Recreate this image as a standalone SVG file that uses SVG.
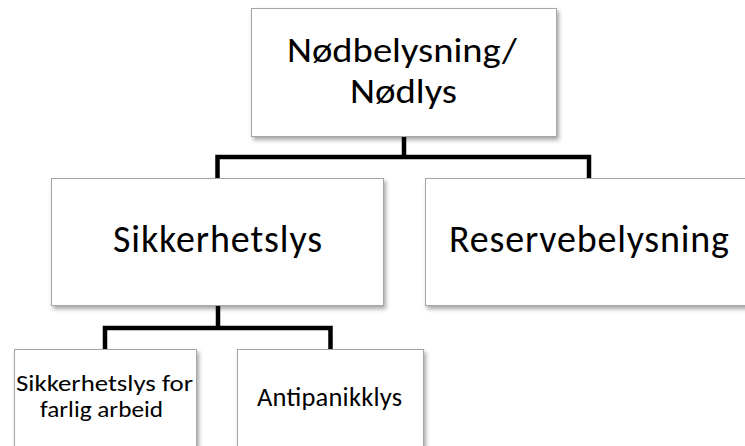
<svg xmlns="http://www.w3.org/2000/svg" width="745" height="446" viewBox="0 0 745 446">
<defs>
<filter id="sh" x="-10%" y="-10%" width="130%" height="130%">
<feDropShadow dx="2" dy="3" stdDeviation="2" flood-color="#000" flood-opacity="0.35"/>
</filter>
<style>
.box{fill:#fff;stroke:#a6a6a6;stroke-width:1;filter:url(#sh)}
.t{font-family:Carlito,Lato,"Liberation Sans",sans-serif;fill:#000;text-anchor:middle}
.c{fill:none;stroke:#000;stroke-width:4.5;stroke-linejoin:miter}
</style>
</defs>
<rect width="745" height="446" fill="#fff"/>
<g id="connectors">
<path class="c" d="M404,137 V157 M217.5,178 V157 H589 V178"/>
<path class="c" d="M218,306 V328 M105,349 V328 H330.5 V349"/>
</g>
<g id="n-root">
<rect class="box" x="251.5" y="8.5" width="305" height="128"/>
<text class="t" x="402" y="62" font-size="34" textLength="230" lengthAdjust="spacingAndGlyphs">Nødbelysning/</text>
<text class="t" x="403.5" y="103" font-size="34" textLength="107" lengthAdjust="spacingAndGlyphs">Nødlys</text>
</g>
<g id="n-sikkerhetslys">
<rect class="box" x="51.5" y="178.5" width="332" height="127"/>
<text class="t" x="217.5" y="252" font-size="38" textLength="209" lengthAdjust="spacing">Sikkerhetslys</text>
</g>
<g id="n-reserve">
<rect class="box" x="425.5" y="178.5" width="330" height="127"/>
<text class="t" x="589" y="252" font-size="38" textLength="280" lengthAdjust="spacing">Reservebelysning</text>
</g>
<g id="n-farlig">
<rect class="box" x="14.5" y="349.5" width="182" height="110"/>
<text class="t" x="104.5" y="391" font-size="21.5" textLength="177" lengthAdjust="spacingAndGlyphs">Sikkerhetslys for</text>
<text class="t" x="101.5" y="417" font-size="21.5" textLength="123" lengthAdjust="spacingAndGlyphs">farlig arbeid</text>
</g>
<g id="n-antipanikk">
<rect class="box" x="237.5" y="349.5" width="186" height="110"/>
<text class="t" x="329.5" y="406" font-size="26.5" textLength="145" lengthAdjust="spacing">Antipanikklys</text>
</g>
</svg>
